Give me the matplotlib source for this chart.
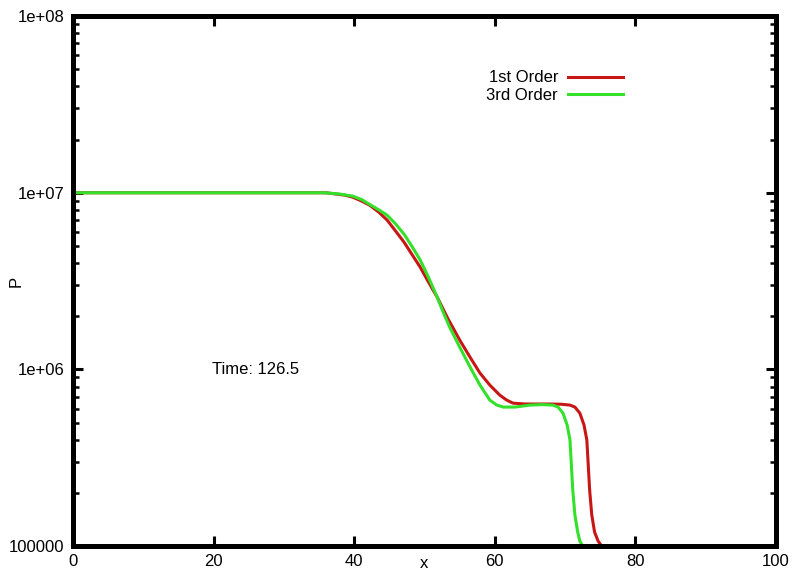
import matplotlib
matplotlib.use("Agg")
import matplotlib.pyplot as plt
from matplotlib.ticker import FixedLocator, LogLocator, NullFormatter

plt.rcParams['font.family'] = ['Liberation Sans', 'DejaVu Sans']

# pressure profiles read along x
x_first = [0, 10, 20, 30, 36.0, 38.7, 39.8, 41.1, 42.2, 43.5, 44.7, 45.8, 47.1, 48.2,
           49.4, 50.5, 51.8, 53.3, 55.0, 56.5, 57.9, 59.3, 60.7, 61.7, 62.6, 64.3,
           66.0, 68.0, 69.5, 70.7, 71.4, 72.1, 72.7, 73.1, 73.3, 73.5, 73.8, 74.2,
           74.7, 75.2]
p_first = [1e7, 1e7, 1e7, 1e7, 1e7, 9.69e6, 9.44e6, 8.96e6, 8.51e6, 7.77e6, 7.0e6,
           6.14e6, 5.25e6, 4.49e6, 3.79e6, 3.16e6, 2.57e6, 1.95e6, 1.47e6, 1.17e6,
           9.53e5, 8.15e5, 7.16e5, 6.7e5, 6.44e5, 6.37e5, 6.37e5, 6.37e5, 6.35e5,
           6.28e5, 6.12e5, 5.66e5, 4.84e5, 3.98e5, 2.87e5, 2.07e5, 1.5e5, 1.2e5,
           1.067e5, 1.0e5]

x_third = [0, 10, 20, 30, 35.8, 38.0, 39.8, 41.1, 42.2, 43.5, 44.7, 45.8, 47.1, 48.2,
           49.4, 50.5, 51.8, 52.6, 53.6, 55.0, 56.5, 57.9, 59.3, 60.3, 61.2, 62.9,
           65.0, 66.7, 68.3, 69.0, 69.7, 70.3, 70.7, 70.9, 71.1, 71.4, 71.8, 72.1,
           72.5]
p_third = [1e7, 1e7, 1e7, 1e7, 1e7, 9.83e6, 9.57e6, 9.14e6, 8.6e6, 8.01e6, 7.46e6,
           6.73e6, 5.83e6, 4.99e6, 4.16e6, 3.37e6, 2.57e6, 2.14e6, 1.73e6, 1.34e6,
           1.03e6, 8.15e5, 6.7e5, 6.28e5, 6.12e5, 6.12e5, 6.28e5, 6.32e5, 6.28e5,
           6.12e5, 5.66e5, 4.84e5, 3.98e5, 2.87e5, 2.07e5, 1.5e5, 1.2e5, 1.067e5,
           1.0e5]

x_ticks = [0, 20, 40, 60, 80, 100]
y_ticks = [1e5, 1e6, 1e7, 1e8]
y_labels = ['100000', '1e+06', '1e+07', '1e+08']

fig = plt.figure(figsize=(7.93, 5.76), dpi=100)
ax = fig.add_axes([0.092, 0.052, 0.8865, 0.92])

ax.plot(x_first, p_first, color='#c81616', lw=2.2, label='1st Order',
        solid_joinstyle='round')
ax.plot(x_third, p_third, color='#33e02a', lw=2.2, label='3rd Order',
        solid_joinstyle='round')

ax.set_yscale('log')
ax.set_xlim(0, 100)
ax.set_ylim(1e5, 1e8)

ax.xaxis.set_major_locator(FixedLocator(x_ticks))
ax.set_xticklabels([str(t) for t in x_ticks])
ax.yaxis.set_major_locator(FixedLocator(y_ticks))
ax.set_yticklabels(y_labels)
ax.yaxis.set_minor_locator(LogLocator(base=10, subs=range(2, 10)))
ax.yaxis.set_minor_formatter(NullFormatter())

ax.tick_params(which='major', direction='in', length=7, width=2.2,
               top=True, right=True, labelsize=12, pad=6)
ax.tick_params(which='minor', direction='in', length=4, width=1.8,
               left=True, right=True)
for s in ax.spines.values():
    s.set_linewidth(3.6)

ax.set_xlabel('x', fontsize=12, va='top')
ax.xaxis.set_label_coords(0.5, -0.018)
ax.set_ylabel('P', fontsize=12)
ax.yaxis.set_label_coords(-0.07, 0.5)

ax.text(19.8, 1e6, 'Time: 126.5', fontsize=12, ha='left', va='center')

ax.legend(loc='upper right', bbox_to_anchor=(0.792, 0.91), frameon=False,
          markerfirst=False, fontsize=12, handlelength=3.3, handletextpad=0.6,
          labelspacing=0.15, borderaxespad=0)

fig.savefig('out.png', dpi=100)
